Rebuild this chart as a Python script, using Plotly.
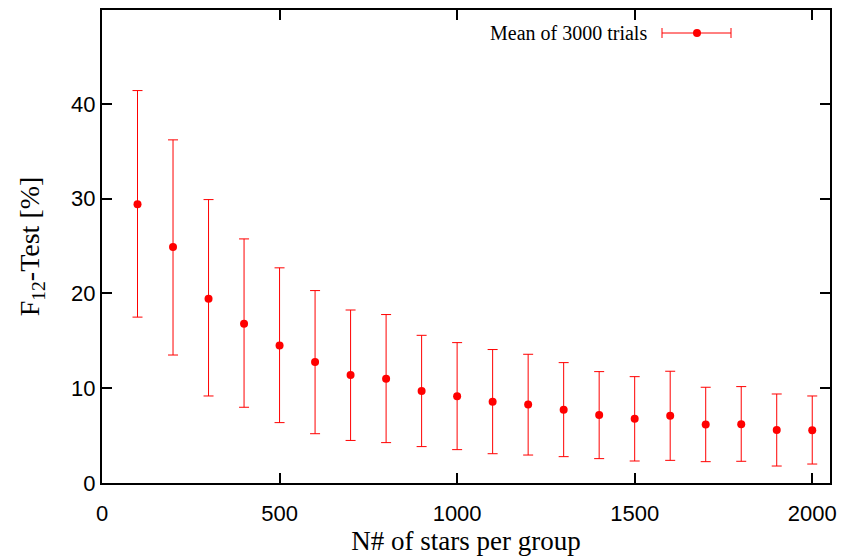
import plotly.graph_objects as go

n_stars = [100, 200, 300, 400, 500, 600, 700, 800, 900, 1000,
           1100, 1200, 1300, 1400, 1500, 1600, 1700, 1800, 1900, 2000]
mean_f12 = [29.4, 24.9, 19.45, 16.8, 14.5, 12.77, 11.4, 11.0, 9.71, 9.15,
            8.58, 8.27, 7.74, 7.18, 6.79, 7.1, 6.16, 6.19, 5.59, 5.56]
upper_f12 = [41.4, 36.2, 29.9, 25.75, 22.7, 20.3, 18.25, 17.77, 15.58, 14.81,
             14.08, 13.58, 12.7, 11.75, 11.22, 11.79, 10.1, 10.17, 9.39, 9.18]
lower_f12 = [17.5, 13.5, 9.18, 7.99, 6.37, 5.2, 4.49, 4.26, 3.84, 3.52,
             3.09, 2.95, 2.78, 2.57, 2.32, 2.39, 2.25, 2.29, 1.79, 2.0]

x_ticks = [0, 500, 1000, 1500, 2000]
y_ticks = [0, 10, 20, 30, 40]
legend_label = "Mean of 3000 trials"

err_plus = [u - m for u, m in zip(upper_f12, mean_f12)]
err_minus = [m - l for m, l in zip(mean_f12, lower_f12)]

RED = "#ff0000"
fig = go.Figure()
fig.add_trace(go.Scatter(
    x=n_stars, y=mean_f12, mode="markers",
    marker=dict(color=RED, size=8),
    error_y=dict(type="data", symmetric=False, array=err_plus, arrayminus=err_minus,
                 color=RED, thickness=1, width=5),
    name=legend_label, showlegend=False,
))

axis_common = dict(
    showgrid=False, zeroline=False, showline=True, linecolor="black", linewidth=2,
    ticks="inside", ticklen=10, tickwidth=1.5, tickcolor="black", mirror="allticks",
    tickfont=dict(family="Liberation Sans", size=22, color="black"),
    automargin=False,
)
# page body has an 8px margin, so the figure is shifted; compensate
fig.update_layout(
    width=848, height=549,
    margin=dict(l=94, r=26, t=2, b=74),
    paper_bgcolor="white", plot_bgcolor="white",
    xaxis=dict(range=[0, 2050], tickvals=x_ticks, **axis_common, ticklabelstandoff=10,
               title=dict(text="N# of stars per group", standoff=6,
                          font=dict(family="Liberation Serif", size=27, color="black"))),
    yaxis=dict(range=[0, 49.9], tickvals=y_ticks, **axis_common,
               title=dict(text="F<sub>12</sub>-Test [%]", standoff=23,
                          font=dict(family="Liberation Serif", size=28, color="black"))),
)

# legend drawn gnuplot-style (text left of sample)
def px(xp):
    return (xp - 102) / 728
def py(yp):
    return (483 - yp) / 473

fig.add_annotation(x=px(649), y=py(33), xref="paper", yref="paper", text=legend_label,
                   showarrow=False, xanchor="right", yanchor="middle",
                   font=dict(family="Liberation Serif", size=20, color="black"))
fig.add_shape(type="line", xref="paper", yref="paper", x0=px(662), x1=px(731), y0=py(33), y1=py(33),
              line=dict(color=RED, width=1))
for xe in (662, 731):
    fig.add_shape(type="line", xref="paper", yref="paper", x0=px(xe), x1=px(xe), y0=py(28), y1=py(38),
                  line=dict(color=RED, width=1))
fig.add_shape(type="circle", xref="paper", yref="paper", xsizemode="pixel", ysizemode="pixel",
              xanchor=px(697), yanchor=py(33), x0=-4, x1=4, y0=-4, y1=4,
              fillcolor=RED, line=dict(color=RED, width=0))

fig.write_html("out.html")
